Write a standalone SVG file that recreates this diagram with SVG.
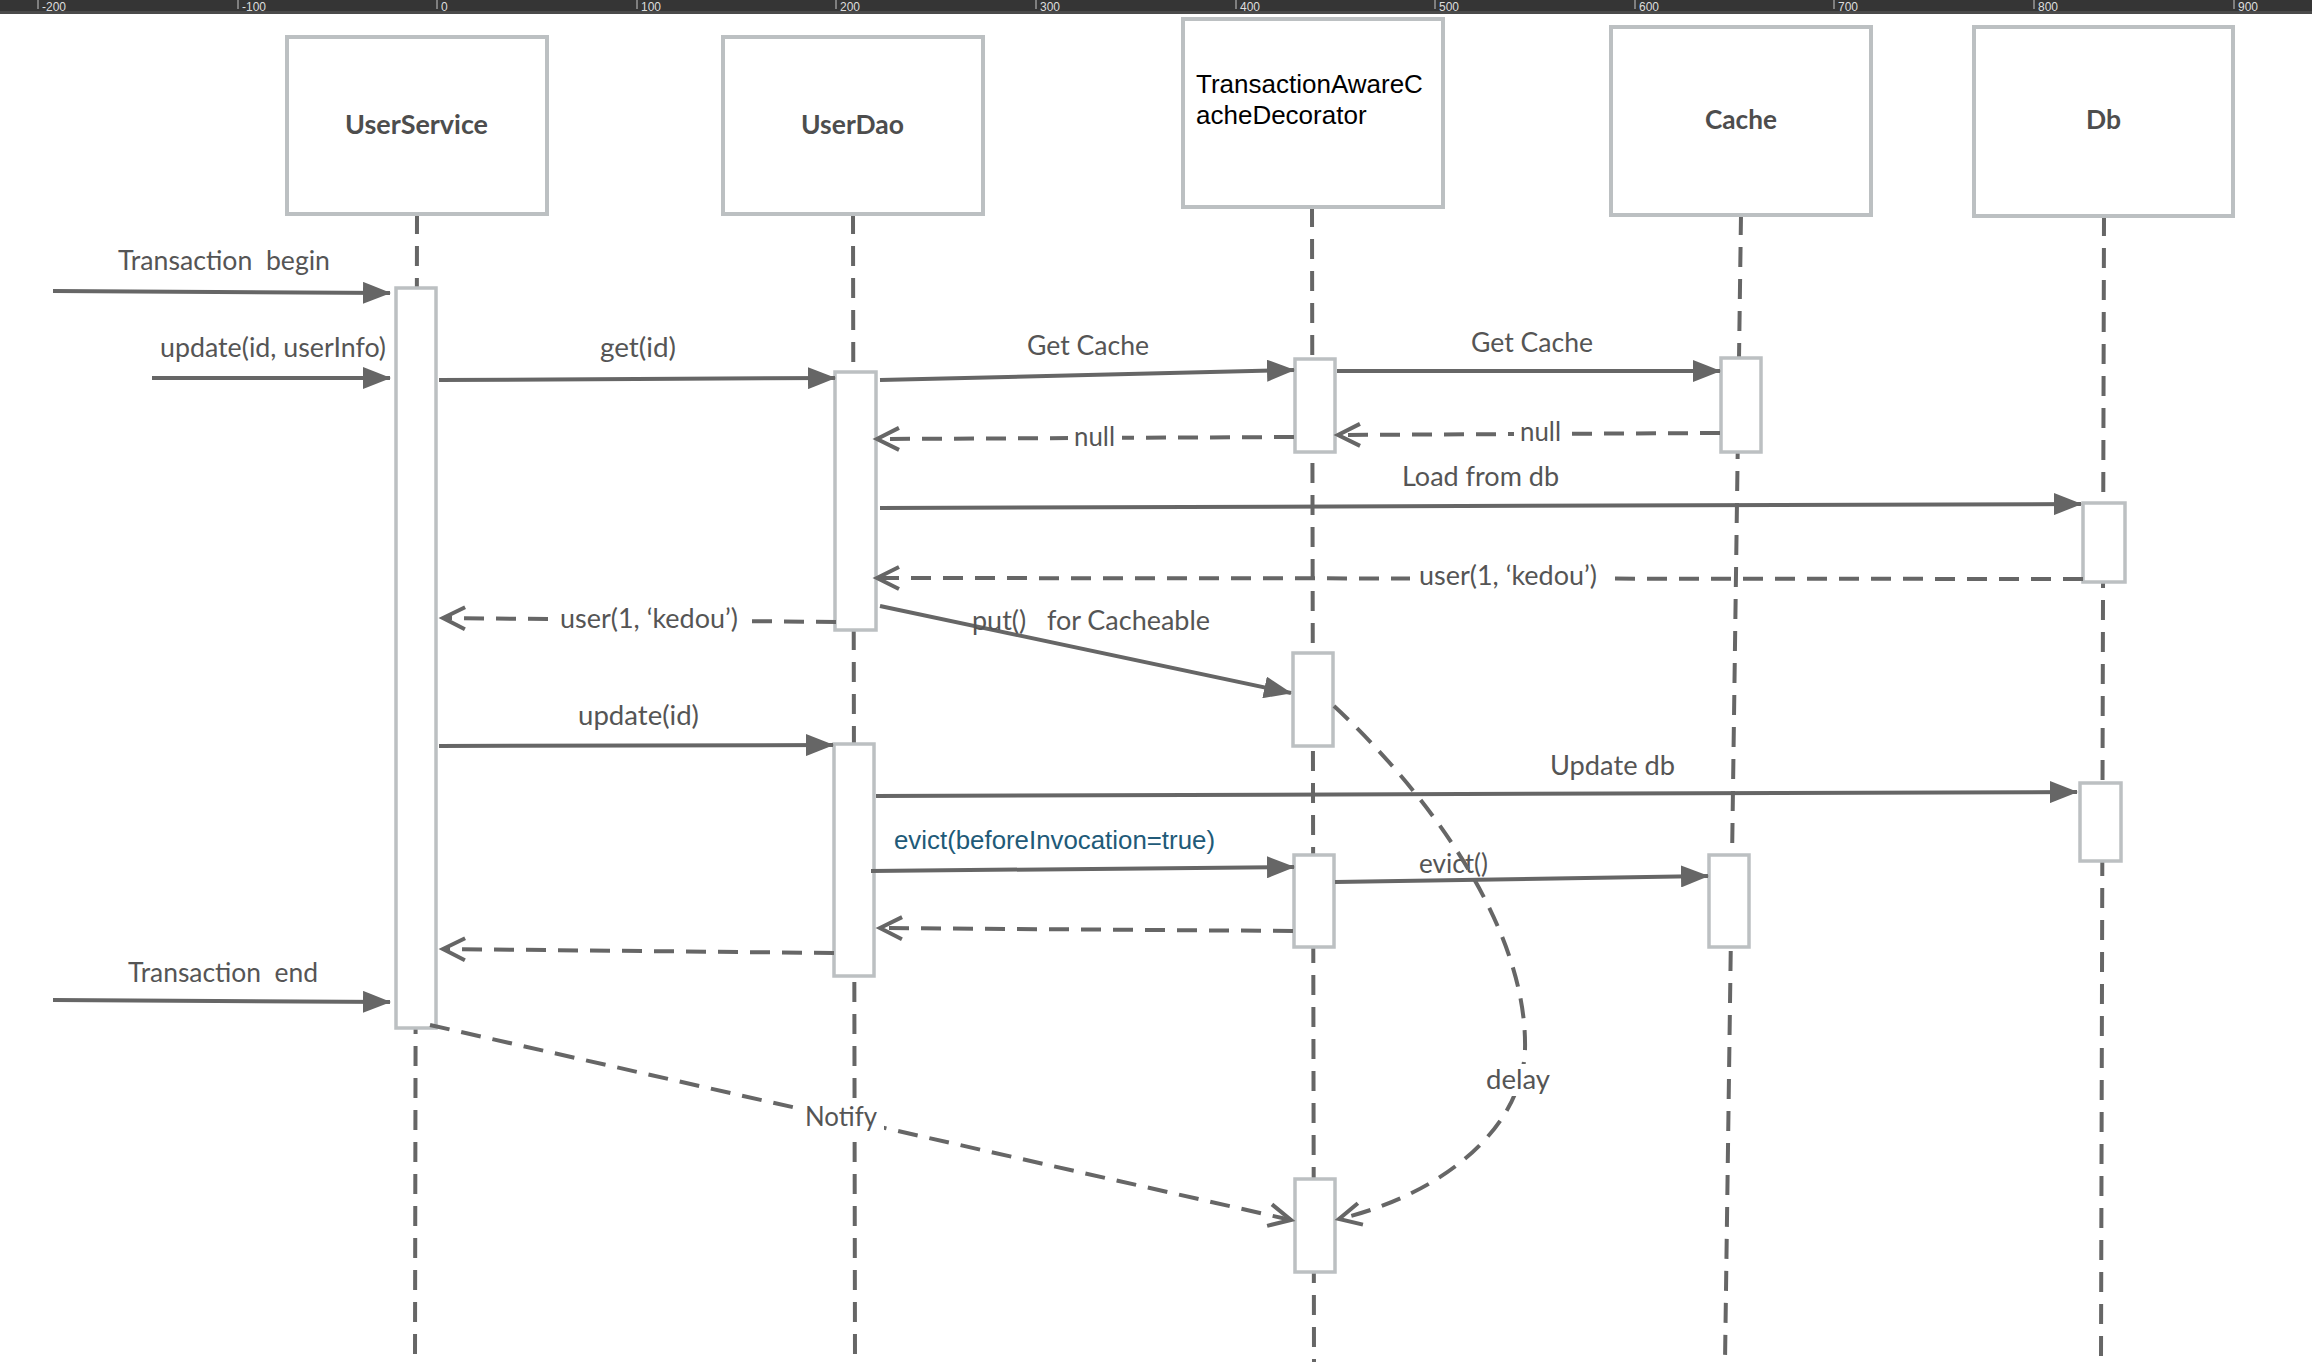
<svg xmlns="http://www.w3.org/2000/svg" width="2312" height="1362" viewBox="0 0 2312 1362">
<defs>
<style>
.hbox{fill:#fff;stroke:#bcc0c2;stroke-width:4}
.act{fill:#fff;stroke:#bcc0c2;stroke-width:3.5}
.life{fill:none;stroke:#666;stroke-width:4;stroke-dasharray:20 12}
.msg{fill:none;stroke:#666;stroke-width:4;marker-end:url(#fill)}
.ret{fill:none;stroke:#666;stroke-width:4;stroke-dasharray:20 12;marker-end:url(#open)}
.lbl{font-family:Lato,"Open Sans",sans-serif;font-size:26px;fill:#555;white-space:pre}
.hd{font-family:Lato,"Open Sans",sans-serif;font-size:27px;font-weight:bold;fill:#4d4d4d}
.dec{font-family:"Liberation Sans",Arial,sans-serif;font-size:26px;fill:#000}
.ruler{font-family:"Liberation Sans",Arial,sans-serif;font-size:12px;fill:#ddd}
.bg{fill:#fff}
</style>
<marker id="fill" viewBox="0 0 28 22" refX="27" refY="11" markerWidth="28" markerHeight="22" markerUnits="userSpaceOnUse" orient="auto">
<path d="M0,0 L28,11 L0,22 z" fill="#666"/>
</marker>
<marker id="open" viewBox="-3 -3 30 30" refX="22" refY="12" markerWidth="30" markerHeight="30" markerUnits="userSpaceOnUse" orient="auto">
<path d="M0,1 L22,12 L0,23" fill="none" stroke="#666" stroke-width="4"/>
</marker>
</defs>
<rect x="0" y="0" width="2312" height="1362" fill="#fff"/>
<g id="ruler">
<rect x="0" y="0" width="2312" height="11" fill="#353535"/>
<rect x="0" y="11" width="2312" height="3" fill="#4a4a4a"/>
<g stroke="#999" stroke-width="1.5">
<line x1="38" y1="0" x2="38" y2="9"/><line x1="238" y1="0" x2="238" y2="9"/><line x1="437" y1="0" x2="437" y2="9"/><line x1="637" y1="0" x2="637" y2="9"/><line x1="836" y1="0" x2="836" y2="9"/><line x1="1036" y1="0" x2="1036" y2="9"/><line x1="1236" y1="0" x2="1236" y2="9"/><line x1="1435" y1="0" x2="1435" y2="9"/><line x1="1635" y1="0" x2="1635" y2="9"/><line x1="1834" y1="0" x2="1834" y2="9"/><line x1="2034" y1="0" x2="2034" y2="9"/><line x1="2234" y1="0" x2="2234" y2="9"/>
</g>
<text class="ruler" x="42" y="11">-200</text>
<text class="ruler" x="242" y="11">-100</text>
<text class="ruler" x="441" y="11">0</text>
<text class="ruler" x="641" y="11">100</text>
<text class="ruler" x="840" y="11">200</text>
<text class="ruler" x="1040" y="11">300</text>
<text class="ruler" x="1240" y="11">400</text>
<text class="ruler" x="1439" y="11">500</text>
<text class="ruler" x="1639" y="11">600</text>
<text class="ruler" x="1838" y="11">700</text>
<text class="ruler" x="2038" y="11">800</text>
<text class="ruler" x="2238" y="11">900</text>
</g>
<g id="UserService">
<line class="life" x1="417" y1="214" x2="415" y2="1362"/>
<rect class="hbox" x="287" y="37" width="260" height="177"/>
<text class="hd" x="345" y="134" textLength="143" lengthAdjust="spacingAndGlyphs">UserService</text>
<rect class="act" x="396" y="288" width="40" height="740"/>
</g>
<g id="UserDao">
<line class="life" x1="853" y1="214" x2="855" y2="1362"/>
<rect class="hbox" x="723" y="37" width="260" height="177"/>
<text class="hd" x="801" y="134" textLength="103" lengthAdjust="spacingAndGlyphs">UserDao</text>
<rect class="act" x="835" y="372" width="41" height="258"/>
<rect class="act" x="834" y="744" width="40" height="232"/>
</g>
<g id="TransactionAwareCacheDecorator">
<line class="life" x1="1312" y1="207" x2="1314" y2="1362"/>
<rect class="hbox" x="1183" y="19" width="260" height="188"/>
<text class="dec" x="1196" y="93">TransactionAwareC</text>
<text class="dec" x="1196" y="124">acheDecorator</text>
<rect class="act" x="1295" y="359" width="40" height="93"/>
<rect class="act" x="1293" y="653" width="40" height="93"/>
<rect class="act" x="1294" y="855" width="40" height="92"/>
<rect class="act" x="1295" y="1179" width="40" height="93"/>
</g>
<g id="Cache">
<line class="life" x1="1741" y1="215" x2="1725" y2="1362"/>
<rect class="hbox" x="1611" y="27" width="260" height="188"/>
<text class="hd" x="1705" y="129" textLength="72" lengthAdjust="spacingAndGlyphs">Cache</text>
<rect class="act" x="1721" y="358" width="40" height="94"/>
<rect class="act" x="1709" y="855" width="40" height="92"/>
</g>
<g id="Db">
<line class="life" x1="2104" y1="216" x2="2101" y2="1362"/>
<rect class="hbox" x="1974" y="27" width="259" height="189"/>
<text class="hd" x="2086" y="129" textLength="35" lengthAdjust="spacingAndGlyphs">Db</text>
<rect class="act" x="2083" y="503" width="42" height="79"/>
<rect class="act" x="2080" y="783" width="41" height="78"/>
</g>
<g id="connectors">
<path class="msg" d="M53,291 L390,293"/>
<text class="lbl" x="118" y="270" textLength="212" lengthAdjust="spacingAndGlyphs">Transaction  begin</text>
<path class="msg" d="M152,378 L390,378"/>
<text class="lbl" x="160" y="357" textLength="226" lengthAdjust="spacingAndGlyphs">update(id, userInfo)</text>
<path class="msg" d="M439,380 L835,378"/>
<text class="lbl" x="600" y="357" textLength="76" lengthAdjust="spacingAndGlyphs">get(id)</text>
<path class="msg" d="M880,380 L1294,370"/>
<text class="lbl" x="1027" y="355" textLength="122" lengthAdjust="spacingAndGlyphs">Get Cache</text>
<path class="msg" d="M1337,371 L1720,371"/>
<text class="lbl" x="1471" y="352" textLength="122" lengthAdjust="spacingAndGlyphs">Get Cache</text>
<path class="ret" d="M1720,433 L1338,435"/>
<rect class="bg" x="1514" y="420" width="53" height="28"/>
<text class="lbl" x="1520" y="441" textLength="41" lengthAdjust="spacingAndGlyphs">null</text>
<path class="ret" d="M1294,437 L877,439"/>
<rect class="bg" x="1068" y="424" width="54" height="28"/>
<text class="lbl" x="1074" y="446" textLength="41" lengthAdjust="spacingAndGlyphs">null</text>
<path class="msg" d="M880,508 L2081,504"/>
<text class="lbl" x="1402" y="486" textLength="157" lengthAdjust="spacingAndGlyphs">Load from db</text>
<path class="ret" d="M2083,579 L877,578"/>
<rect class="bg" x="1410" y="564" width="196" height="30"/>
<text class="lbl" x="1419" y="585" textLength="178" lengthAdjust="spacingAndGlyphs">user(1, ‘kedou’)</text>
<path class="ret" d="M836,622 L443,618"/>
<rect class="bg" x="551" y="606" width="196" height="32"/>
<text class="lbl" x="560" y="628" textLength="178" lengthAdjust="spacingAndGlyphs">user(1, ‘kedou’)</text>
<path class="msg" d="M880,606 L1291,693"/>
<text class="lbl" x="972" y="630" textLength="238" lengthAdjust="spacingAndGlyphs">put()   for Cacheable</text>
<path class="msg" d="M439,746 L833,745"/>
<text class="lbl" x="578" y="725" textLength="121" lengthAdjust="spacingAndGlyphs">update(id)</text>
<path class="msg" d="M876,796 L2077,792"/>
<text class="lbl" x="1550" y="775" textLength="125" lengthAdjust="spacingAndGlyphs">Update db</text>
<path class="msg" d="M871,871 L1294,867"/>
<text x="894" y="849" textLength="321" lengthAdjust="spacingAndGlyphs" style="font-family:'Liberation Sans',Arial,sans-serif;font-size:25px;fill:#215a78">evict(beforeInvocation=true)</text>
<path class="msg" d="M1335,882 L1708,876"/>
<text class="lbl" x="1419" y="873" textLength="69" lengthAdjust="spacingAndGlyphs">evict()</text>
<path class="ret" d="M1293,931 L880,928"/>
<path class="ret" d="M834,953 L443,949"/>
<path class="msg" d="M53,1000 L390,1002"/>
<text class="lbl" x="128" y="982" textLength="190" lengthAdjust="spacingAndGlyphs">Transaction  end</text>
<path class="ret" d="M430,1025 L1291,1220"/>
<rect class="bg" x="800" y="1102" width="84" height="32"/>
<text class="lbl" x="805" y="1126" textLength="72" lengthAdjust="spacingAndGlyphs">Notify</text>
<path class="ret" d="M1334,706 C1430,795 1528,930 1525,1050 C1522,1130 1440,1195 1339,1219"/>
<rect class="bg" x="1481" y="1064" width="74" height="32"/>
<text class="lbl" x="1486" y="1089" textLength="64" lengthAdjust="spacingAndGlyphs">delay</text>
</g>
</svg>
